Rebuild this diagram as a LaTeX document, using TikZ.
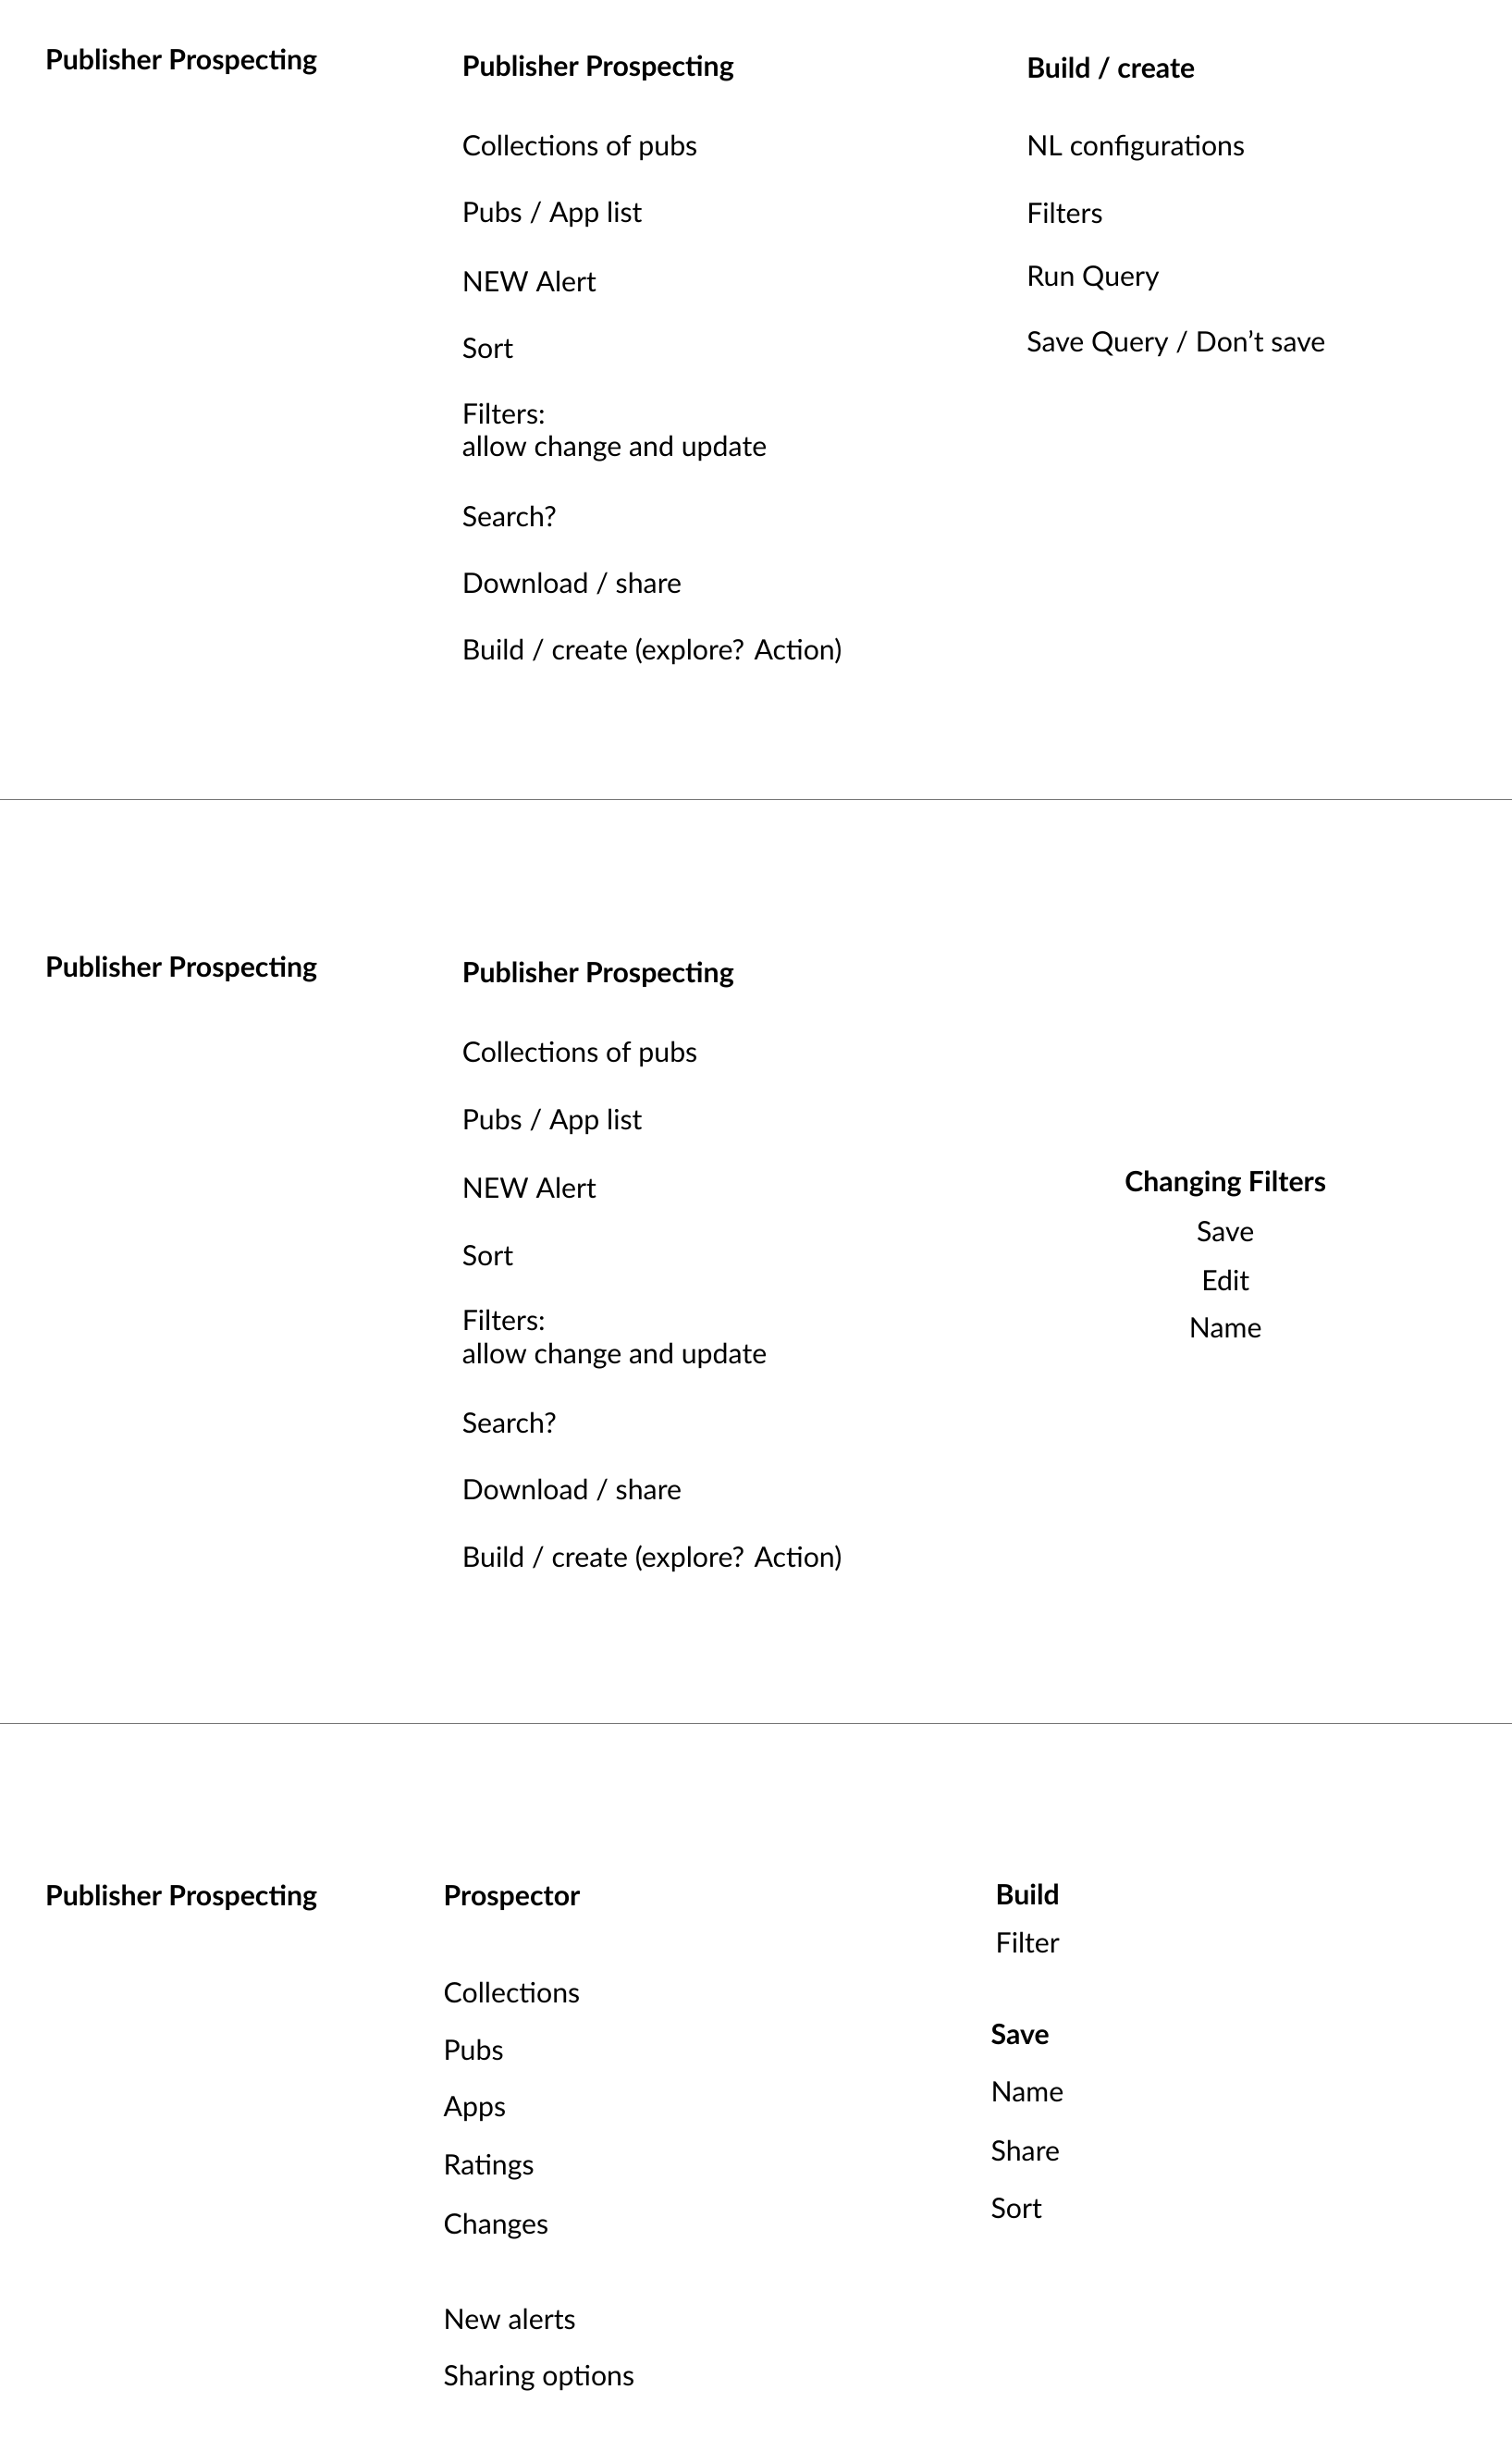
\documentclass[tikz,border=0pt]{standalone}
\usepackage{fontspec}
\setmainfont{Lato}
\begin{document}
\begin{tikzpicture}[x=1pt,y=-1pt,
  t/.style={anchor=west,inner sep=0pt,font=\fontsize{18}{21}\selectfont,align=left},
  h/.style={t,font=\fontsize{18}{21}\selectfont\bfseries},
  c/.style={inner sep=0pt,font=\fontsize{18}{21}\selectfont},
  sep/.style={draw=black!55,line width=0.8pt}]
\useasboundingbox[fill=white] (0,0) rectangle (972,1568);
% section 1
\node[h] (a1) at (29,40) {Publisher Prospecting};
\node[h] (b0) at (297,44) {Publisher Prospecting};
\node[t] (b1) at (297,95) {Collections of pubs};
\node[t] (b2) at (297,138) {Pubs / App list};
\node[t] (b3) at (297,181) {NEW Alert};
\node[t] (b4) at (297,224) {Sort};
\node[t] (b5) at (297,278) {Filters:\\allow change and update};
\node[t] (b6) at (297,332) {Search?};
\node[t] (b7) at (297,375) {Download / share};
\node[t] (b8) at (297,419) {Build / create (explore? Action)};
\node[h] (c0) at (660,44) {Build / create};
\node[t] (c1) at (660,95) {NL configurations};
\node[t] (c2) at (660,137) {Filters};
\node[t] (c3) at (660,179) {Run Query};
\node[t] (c4) at (660,221) {Save Query / Don’t save};
\coordinate (l1a) at (0,514); \coordinate (l1b) at (972,514);
\draw[sep] (l1a) -- (l1b);
% section 2
\node[h] (d1) at (29,623) {Publisher Prospecting};
\node[h] (e0) at (297,627) {Publisher Prospecting};
\node[t] (e1) at (297,678) {Collections of pubs};
\node[t] (e2) at (297,721) {Pubs / App list};
\node[t] (e3) at (297,764) {NEW Alert};
\node[t] (e4) at (297,807) {Sort};
\node[t] (e5) at (297,861) {Filters:\\allow change and update};
\node[t] (e6) at (297,915) {Search?};
\node[t] (e7) at (297,958) {Download / share};
\node[t] (e8) at (297,1002) {Build / create (explore? Action)};
\node[c,font=\fontsize{18}{21}\selectfont\bfseries] (f0) at (788,761) {Changing Filters};
\node[c] (f1) at (788,792) {Save};
\node[c] (f2) at (788,823) {Edit};
\node[c] (f3) at (788,854) {Name};
\coordinate (l2a) at (0,1108); \coordinate (l2b) at (972,1108);
\draw[sep] (l2a) -- (l2b);
% section 3
\node[h] (g1) at (29,1220) {Publisher Prospecting};
\node[h] (p0) at (285,1220) {Prospector};
\node[t] (p1) at (285,1281) {Collections};
\node[t] (p2) at (285,1318) {Pubs};
\node[t] (p3) at (285,1356) {Apps};
\node[t] (p4) at (285,1393) {Ratings};
\node[t] (p5) at (285,1431) {Changes};
\node[t] (p6) at (285,1491) {New alerts};
\node[t] (p7) at (285,1529) {Sharing options};
\node[h] (q0) at (640,1218) {Build};
\node[t] (q1) at (640,1249) {Filter};
\node[h] (q2) at (637,1308) {Save};
\node[t] (q3) at (637,1345) {Name};
\node[t] (q4) at (637,1383) {Share};
\node[t] (q5) at (637,1420) {Sort};
\end{tikzpicture}
\end{document}
